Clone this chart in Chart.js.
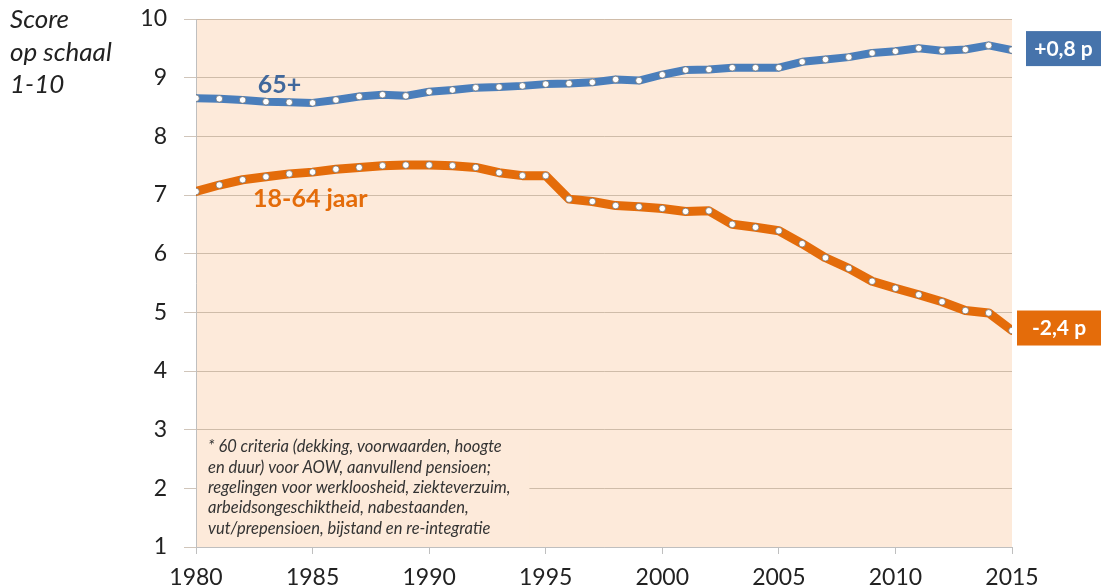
<!DOCTYPE html>
<html>
<head>
<meta charset="utf-8">
<script src="https://cdn.jsdelivr.net/npm/chart.js@4.4.1/dist/chart.umd.min.js"></script>
<style>
  html, body { margin: 0; padding: 0; background: #fff; }
  #wrap { width: 1103px; height: 588px; position: relative; }
</style>
</head>
<body>
<div id="wrap"><canvas id="score"></canvas></div>
<script>
// data
var years = [1980, 1981, 1982, 1983, 1984, 1985, 1986, 1987, 1988, 1989,
             1990, 1991, 1992, 1993, 1994, 1995, 1996, 1997, 1998, 1999,
             2000, 2001, 2002, 2003, 2004, 2005, 2006, 2007, 2008, 2009,
             2010, 2011, 2012, 2013, 2014, 2015];
var elderly = [8.65, 8.64, 8.62, 8.59, 8.58, 8.57, 8.62, 8.68, 8.71, 8.69,
               8.76, 8.79, 8.83, 8.84, 8.86, 8.89, 8.90, 8.92, 8.97, 8.95,
               9.05, 9.13, 9.14, 9.17, 9.17, 9.17, 9.27, 9.31, 9.35, 9.42,
               9.45, 9.50, 9.46, 9.48, 9.55, 9.47];
var working = [7.06, 7.17, 7.26, 7.31, 7.36, 7.39, 7.44, 7.47, 7.50, 7.51,
               7.51, 7.50, 7.47, 7.38, 7.33, 7.33, 6.93, 6.89, 6.82, 6.80,
               6.77, 6.72, 6.73, 6.50, 6.45, 6.39, 6.17, 5.93, 5.75, 5.53,
               5.41, 5.30, 5.18, 5.03, 4.99, 4.69];
var xTicks = [1980, 1985, 1990, 1995, 2000, 2005, 2010, 2015];
var yTicks = [1, 2, 3, 4, 5, 6, 7, 8, 9, 10];
var seriesNames = ['65+', '18-64 jaar'];
var changeLabels = ['+0,8 p', '-2,4 p'];
var axisTitle = ['Score', 'op schaal', '1-10'];
var footnote = [
  '* 60 criteria (dekking, voorwaarden, hoogte',
  'en duur) voor AOW, aanvullend pensioen;',
  'regelingen voor werkloosheid, ziekteverzuim,',
  'arbeidsongeschiktheid, nabestaanden,',
  'vut/prepensioen, bijstand en re-integratie'
];

var BLUE = '#4A7EBB';
var ORANGE = '#E46C0A';
var PEACH = '#FDEADA';
var FONT = 'Lato, "Open Sans", sans-serif';

function pts(vals) {
  return years.map(function (y, i) { return { x: y, y: vals[i] }; });
}

// peach plot background
var bgPlugin = {
  id: 'bg',
  beforeDraw: function (chart) {
    var a = chart.chartArea, ctx = chart.ctx;
    ctx.save();
    ctx.fillStyle = PEACH;
    ctx.fillRect(a.left, a.top, a.right - a.left, a.bottom - a.top);
    ctx.restore();
  }
};

// footnote box sits on top of the gridlines
var notePlugin = {
  id: 'note',
  beforeDatasetsDraw: function (chart) {
    var ctx = chart.ctx, xs = chart.scales.x, ys = chart.scales.y;
    var left = xs.getPixelForValue(1980) + 1;
    var right = xs.getPixelForValue(1994.3);
    var top = ys.getPixelForValue(2.96);
    var bottom = ys.getPixelForValue(1) - 1;
    ctx.save();
    ctx.fillStyle = PEACH;
    ctx.fillRect(left, top, right - left, bottom - top);
    ctx.fillStyle = '#333';
    ctx.font = 'italic 16.5px ' + FONT;
    ctx.textBaseline = 'middle';
    footnote.forEach(function (line, i) {
      ctx.fillText(line, left + 11, top + 15 + i * 20.3);
    });
    ctx.restore();
  }
};

var labelPlugin = {
  id: 'labels',
  afterDraw: function (chart) {
    var ctx = chart.ctx, xs = chart.scales.x, ys = chart.scales.y, a = chart.chartArea;
    ctx.save();
    // axis title, top left
    ctx.fillStyle = '#222';
    ctx.font = 'italic 26px ' + FONT;
    ctx.textBaseline = 'middle';
    axisTitle.forEach(function (t, i) { ctx.fillText(t, 10, 20 + i * 32.5); });

    // series names
    ctx.font = 'bold 25px ' + FONT;
    ctx.fillStyle = '#41689C';
    ctx.fillText(seriesNames[0], xs.getPixelForValue(1982.65), ys.getPixelForValue(8.875));
    ctx.fillStyle = ORANGE;
    ctx.fillText(seriesNames[1], xs.getPixelForValue(1982.45), ys.getPixelForValue(6.93));

    // change boxes at the right end
    var last = years.length - 1;
    var boxes = [
      { text: changeLabels[0], fill: '#4673AB', y: ys.getPixelForValue(elderly[last]) - 1, left: a.right + 14 },
      { text: changeLabels[1], fill: ORANGE, y: ys.getPixelForValue(working[last]) - 2, left: a.right + 5 }
    ];
    ctx.font = 'bold 21px ' + FONT;
    boxes.forEach(function (b) {
      var w = chart.width - 2 - b.left;
      ctx.fillStyle = b.fill;
      ctx.fillRect(b.left, b.y - 18, w, 35);
      ctx.fillStyle = '#fff';
      ctx.textAlign = 'center';
      ctx.fillText(b.text, b.left + w / 2, b.y);
    });
    ctx.restore();
  }
};

function lineSet(label, vals, color, width) {
  return {
    label: label,
    data: pts(vals),
    borderColor: color,
    borderWidth: width,
    borderJoinStyle: 'round',
    borderCapStyle: 'round',
    tension: 0,
    pointRadius: 3.3,
    pointBackgroundColor: '#fff',
    pointBorderColor: 'rgba(110,110,110,0.7)',
    pointBorderWidth: 1
  };
}

var chart = new Chart(document.getElementById('score'), {
  type: 'line',
  data: {
    datasets: [
      lineSet(seriesNames[0], elderly, BLUE, 8),
      lineSet(seriesNames[1], working, ORANGE, 9)
    ]
  },
  options: {
    responsive: true,
    maintainAspectRatio: false,
    animation: false,
    layout: { padding: { left: 0, top: 19, right: 91, bottom: 0 } },
    plugins: {
      legend: { display: false },
      tooltip: { enabled: false }
    },
    scales: {
      x: {
        type: 'linear',
        min: 1980,
        max: 2015,
        afterBuildTicks: function (s) { s.ticks = xTicks.map(function (v) { return { value: v }; }); },
        afterFit: function (s) { s.height = 41; s.paddingLeft = 0; s.paddingRight = 0; },
        ticks: {
          color: '#222',
          font: { family: FONT, size: 23 },
          padding: 10,
          maxRotation: 0,
          callback: function (v) { return String(v); }
        },
        grid: { drawOnChartArea: false, tickLength: 7, color: '#BFBFBF' },
        border: { display: true, color: '#BFBFBF' }
      },
      y: {
        min: 1,
        max: 10,
        afterBuildTicks: function (s) { s.ticks = yTicks.map(function (v) { return { value: v }; }); },
        afterFit: function (s) { s.width = 196; s.paddingTop = 0; s.paddingBottom = 0; },
        ticks: {
          color: '#222',
          font: { family: FONT, size: 23 },
          padding: 17
        },
        grid: { color: 'rgba(170,150,130,0.55)', tickLength: 12 },
        border: { display: true, color: '#BFBFBF' }
      }
    }
  },
  plugins: [bgPlugin, notePlugin, labelPlugin]
});
</script>
</body>
</html>
